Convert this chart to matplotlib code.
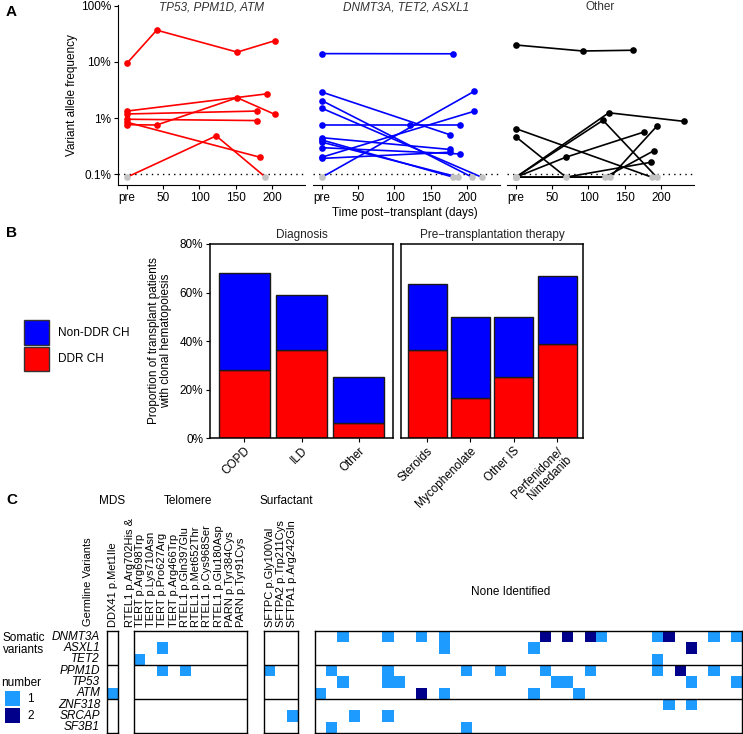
import matplotlib
matplotlib.use("Agg")
import matplotlib.pyplot as plt
import numpy as np
from matplotlib.colors import ListedColormap
from matplotlib.patches import Rectangle

plt.rcParams["font.family"] = ["Liberation Sans", "DejaVu Sans"]
plt.rcParams["font.size"] = 8

# ---- panel A: VAF over time (days, VAF %; 0 = not detected) ----
red_series = [
    ([0, 41, 152, 204], [9.5, 37, 15, 24]),
    ([0, 193], [1.33, 2.7]),
    ([0, 179], [1.18, 1.33]),
    ([0, 179], [0.95, 0.9]),
    ([0, 183], [0.84, 0.2]),
    ([0, 41, 152, 204], [0.76, 0.75, 2.3, 1.16]),
    ([0, 123, 191], [0, 0.48, 0]),
]
blue_series = [
    ([0, 181], [14.1, 14]),
    ([0, 177], [2.9, 0.5]),
    ([0, 207], [2.04, 0]),
    ([0, 220], [1.49, 0]),
    ([0, 121, 190], [0.76, 0.76, 0.76]),
    ([0, 210], [0, 3.0]),
    ([0, 210], [0.2, 1.32]),
    ([0, 176], [0.445, 0.275]),
    ([0, 181], [0.405, 0]),
    ([0, 188], [0.37, 0]),
    ([0, 191], [0.295, 0.228]),
    ([0, 177], [0.19, 0.245]),
]
black_series = [
    ([0, 92, 161], [20.1, 15.7, 16.2]),
    ([0, 187], [0.645, 0]),
    ([0, 69, 186], [0.46, 0, 0.162]),
    ([0, 128, 232], [0, 1.24, 0.87]),
    ([0, 120, 194], [0, 0.91, 0]),
    ([0, 69, 176], [0, 0.2, 0.56]),
    ([0, 130, 194], [0, 0, 0.71]),
    ([0, 123, 190], [0, 0, 0.26]),
]
facet_titles = ["TP53, PPM1D, ATM", "DNMT3A, TET2, ASXL1", "Other"]
vaf_ticks = [0.1, 1, 10, 100]
vaf_labels = ["0.1%", "1%", "10%", "100%"]
day_ticks = [0, 50, 100, 150, 200]
day_labels = ["pre", "50", "100", "150", "200"]

# ---- panel B: proportion with CH (%) ----
diag_cats = ["COPD", "ILD", "Other"]
diag_ddr = [28, 36.4, 6.25]
diag_total = [68, 59.1, 25]
ther_cats = ["Steroids", "Mycophenolate", "Other IS", "Perfenidone/\nNintedanib"]
ther_ddr = [36.4, 16.7, 25, 38.9]
ther_total = [63.6, 50, 50, 66.7]

# ---- panel C: somatic variant counts by germline variant ----
genes = ["DNMT3A", "ASXL1", "TET2", "PPM1D", "TP53", "ATM", "ZNF318", "SRCAP", "SF3B1"]
mds_labels = ["DDX41 p.Met1Ile"]
mds_grid = ["0", "0", "0", "0", "0", "1", "0", "0", "0"]
# first telomere column carries two variants; its first line sits left of the column
telomere_extra = "RTEL1 p.Arg702His &"
telomere_labels = ["TERT p.Arg698Trp", "TERT p.Lys710Asn",
                   "TERT p.Pro627Arg", "TERT p.Arg466Trp", "RTEL1 p.Gln397Glu",
                   "RTEL1 p.Met652Thr", "RTEL1 p.Cys968Ser", "RTEL1 p.Glu180Asp",
                   "PARN p.Tyr384Cys", "PARN p.Tyr91Cys"]
telomere_grid = [
    "0000000000",
    "0010000000",
    "1000000000",
    "0010100000",
    "0000000000",
    "0000000000",
    "0000000000",
    "0000000000",
    "0000000000",
]
surfactant_labels = ["SFTPC p.Gly100Val", "SFTPA2 p.Trp211Cys", "SFTPA1 p.Arg242Gln"]
surfactant_grid = ["000", "000", "000", "100", "000", "000", "000", "001", "000"]
none_grid = [
    "0010001001" "0100000000" "2020210000" "12000101",
    "0000000000" "0100000001" "0000000000" "00020000",
    "0000000000" "0000000000" "0000000000" "10000000",
    "0100001000" "0001001000" "1000100000" "10200100",
    "0010001100" "0000000000" "0110000000" "00010001",
    "1000000002" "0100000001" "0001000000" "00000000",
    "0000000000" "0000000000" "0000000000" "01010000",
    "0001001000" "0000000000" "0000000000" "00000000",
    "0100000000" "0001000000" "0000000000" "00000000",
]

W, H = 743, 734
fig = plt.figure(figsize=(W / 100, H / 100), dpi=100)


def axes_px(x0, y0, x1, y1):
    return fig.add_axes([x0 / W, 1 - y1 / H, (x1 - x0) / W, (y1 - y0) / H])


def text_px(x, y, s, **kw):
    fig.text(x / W, 1 - y / H, s, **kw)


def rect_px(x0, y0, x1, y1, **kw):
    fig.add_artist(Rectangle((x0 / W, 1 - y1 / H), (x1 - x0) / W, (y1 - y0) / H,
                             transform=fig.transFigure, **kw))


# ================= A =================
LOD_SHOW = 0.088   # undetected calls drawn just under the 0.1% line
GREY = "#c4c4c4"
panel_x = [(118, 305), (313, 500), (507, 694)]
for i, (series, col) in enumerate(zip([red_series, blue_series, black_series],
                                      ["#ff0000", "#0000ff", "black"])):
    x0, x1 = panel_x[i]
    ax = axes_px(x0, 5, x1, 185)
    ax.set_yscale("log")
    ax.set_ylim(0.0637, 104)
    ax.set_xlim(-12.4, 245.5)
    ax.axhline(0.1, color="black", lw=1, ls=(0, (1, 3)), zorder=1)
    for days, vaf in series:
        days = np.array(days)
        vaf = np.array(vaf, dtype=float)
        shown = np.where(vaf > 0, vaf, LOD_SHOW)
        ax.plot(days, shown, color=col, lw=1.2, zorder=2)
        det = vaf > 0
        ax.plot(days[det], shown[det], "o", color=col, ms=4.8, mew=0, zorder=3)
        ax.plot(days[~det], shown[~det], "o", color=GREY, ms=4.8, mew=0, zorder=4)
    for s in ["top", "right"]:
        ax.spines[s].set_visible(False)
    ax.set_xticks(day_ticks)
    ax.set_xticklabels(day_labels, fontsize=8.5)
    ax.minorticks_off()
    ax.tick_params(length=3, width=0.8, pad=2)
    if i == 0:
        ax.set_yticks(vaf_ticks)
        ax.set_yticklabels(vaf_labels, fontsize=8.5)
    else:
        ax.spines["left"].set_visible(False)
        ax.set_yticks([])
    ax.patch.set_alpha(0)
    text_px((x0 + x1) / 2, 7, facet_titles[i], ha="center", va="center", fontsize=8.5,
            style="italic" if i < 2 else "normal", color="#333333")

text_px(72, 95, "Variant allele frequency", rotation=90, ha="center", va="center", fontsize=8.5)
text_px(405, 213, "Time post\u2212transplant (days)", ha="center", va="center", fontsize=8.5)
text_px(6, 12, "A", fontsize=11, fontweight="bold", va="center")

# ================= B =================
RED, BLUE = "#ff0000", "#0000ff"
for (x0, x1), cats, ddr, tot, title in [((210, 393), diag_cats, diag_ddr, diag_total, "Diagnosis"),
                                       ((401, 583), ther_cats, ther_ddr, ther_total,
                                        "Pre\u2212transplantation therapy")]:
    ax = axes_px(x0, 244, x1, 438)
    xs = np.arange(1, len(cats) + 1)
    ddr = np.array(ddr)
    tot = np.array(tot)
    ax.bar(xs, ddr, width=0.9, color=RED, edgecolor="#1a1a1a", lw=1)
    ax.bar(xs, tot - ddr, bottom=ddr, width=0.9, color=BLUE, edgecolor="#1a1a1a", lw=1)
    ax.set_xlim(0.4, len(cats) + 0.6)
    ax.set_ylim(0, 80)
    ax.set_xticks(xs)
    ax.set_xticklabels(cats, rotation=45, ha="right", va="top", rotation_mode="anchor",
                       fontsize=8.5, linespacing=1.0)
    ax.tick_params(length=3, width=0.8, pad=2)
    for s in ax.spines.values():
        s.set_linewidth(1.1)
    if x0 == 210:
        ax.set_yticks([0, 20, 40, 60, 80])
        ax.set_yticklabels(["0%", "20%", "40%", "60%", "80%"], fontsize=8.5)
    else:
        ax.set_yticks([])
    text_px((x0 + x1) / 2, 235, title, ha="center", va="center", fontsize=8.5, color="#222222")

text_px(160, 341, "Proportion of transplant patients\nwith clonal hematopoiesis", rotation=90,
        ha="center", va="center", fontsize=8.5, linespacing=1.1)
rect_px(24, 320, 49, 345, facecolor=BLUE, edgecolor="#333333", lw=1)
rect_px(24, 347, 49, 371, facecolor=RED, edgecolor="#333333", lw=1)
text_px(58, 333, "Non-DDR CH", va="center", fontsize=8.5)
text_px(58, 359, "DDR CH", va="center", fontsize=8.5)
text_px(6, 233, "B", fontsize=11, fontweight="bold", va="center")

# ================= C =================
LIGHT, DARK = "#1e9bff", "#00008b"
cmap = ListedColormap(["white", LIGHT, DARK])
top, bot = 631, 733
blocks = [((107, 118.3), mds_grid, mds_labels),
          ((134, 247), telomere_grid, telomere_labels),
          ((264, 298), surfactant_grid, surfactant_labels),
          ((315, 742), none_grid, None)]
for (x0, x1), rows, labels in blocks:
    ax = axes_px(x0, top, x1, bot)
    grid = np.array([[int(c) for c in r] for r in rows])
    ax.imshow(grid, cmap=cmap, vmin=0, vmax=2, aspect="auto", interpolation="nearest")
    ax.axhline(2.5, color="black", lw=1)
    ax.axhline(5.5, color="black", lw=1)
    ax.set_yticks([])
    if labels:
        ax.xaxis.tick_top()
        ax.set_xticks(range(len(labels)))
        ax.set_xticklabels(labels, rotation=90, fontsize=8, linespacing=1.0)
        ax.tick_params(length=0, pad=3)
    else:
        ax.set_xticks([])
    for s in ax.spines.values():
        s.set_linewidth(1)

text_px(130, 627, telomere_extra, rotation=90, ha="center", va="bottom", fontsize=8)

row_h = (bot - top) / len(genes)
for i, g in enumerate(genes):
    text_px(100, top + row_h * (i + 0.5), g, ha="right", va="center", fontsize=8.5, style="italic")

text_px(88, 626, "Germline Variants", rotation=90, ha="center", va="bottom", fontsize=8)
text_px(112, 501, "MDS", ha="center", va="center", fontsize=8.5)
text_px(188, 501, "Telomere", ha="center", va="center", fontsize=8.5)
text_px(286, 501, "Surfactant", ha="center", va="center", fontsize=8.5)
text_px(511, 592, "None Identified", ha="center", va="center", fontsize=8.5)
text_px(24, 644, "Somatic\nvariants", ha="center", va="center", fontsize=8.5, linespacing=1.05)
text_px(1, 683, "number", ha="left", va="center", fontsize=8.5)
rect_px(5, 691, 20, 706, facecolor=LIGHT, edgecolor="none")
rect_px(5, 708, 20, 723, facecolor=DARK, edgecolor="none")
text_px(27, 699, "1", va="center", fontsize=8.5)
text_px(27, 716, "2", va="center", fontsize=8.5)
text_px(6, 500, "C", fontsize=11, fontweight="bold", va="center")

fig.savefig("out.png", dpi=100)
